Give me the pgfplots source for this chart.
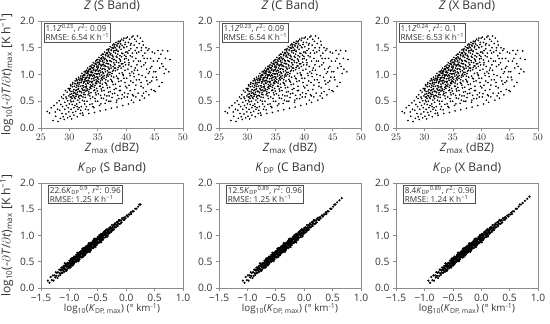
\documentclass[border=0pt]{standalone}
\usepackage{fontspec}
\setmainfont{Open Sans}
\usepackage{pgfplots}
\pgfplotsset{compat=1.18}
\usepackage{pgfplotstable}
\definecolor{axgray}{HTML}{8C8C8C}
\definecolor{txtgray}{HTML}{333333}
\definecolor{boxgray}{HTML}{505050}

\pgfplotstableread{
x y
26.1 0.31
26.5 0.28
26.8 0.38
27.1 0.14
27.3 0.42
27.5 0.30
27.6 0.22
27.8 0.47
27.9 0.35
28.0 0.12
28.2 0.51
28.3 0.33
28.4 0.18
28.5 0.44
28.6 0.58
28.7 0.27
28.8 0.40
28.9 0.55
28.9 0.21
29.0 0.62
29.1 0.16
29.2 0.48
29.2 0.35
29.3 0.70
29.4 0.26
29.5 0.55
29.5 0.42
29.6 0.67
29.7 0.19
29.7 0.51
29.8 0.74
29.8 0.38
29.9 0.60
29.9 0.30
29.4 0.58
30.0 0.72
30.0 0.45
30.1 0.22
30.1 0.63
30.2 0.81
30.2 0.52
30.3 0.35
30.3 0.68
30.4 0.17
30.4 0.58
30.5 0.77
30.5 0.44
30.6 0.85
30.6 0.29
30.7 0.65
30.7 0.50
30.8 0.72
30.8 0.38
30.9 0.83
30.9 0.57
30.3 0.49
30.6 0.61
30.8 0.24
30.1 0.74
31.0 0.88
31.0 0.55
31.1 0.31
31.1 0.70
31.2 0.92
31.2 0.62
31.3 0.45
31.3 0.80
31.4 0.21
31.4 0.67
31.5 0.85
31.5 0.52
31.6 0.95
31.6 0.74
31.7 0.38
31.7 0.60
31.8 0.89
31.8 0.48
31.9 0.78
31.9 0.27
31.2 0.76
31.4 0.83
31.6 0.58
31.8 0.69
31.1 0.64
31.3 0.90
31.5 0.72
31.7 0.82
31.9 0.93
31.5 0.35
31.0 0.42
31.8 0.55
32.0 0.97
32.0 0.68
32.1 0.40
32.1 0.85
32.2 1.02
32.2 0.74
32.3 0.52
32.3 0.91
32.4 0.24
32.4 0.79
32.5 0.99
32.5 0.63
32.6 1.05
32.6 0.87
32.7 0.45
32.7 0.71
32.8 0.94
32.8 0.57
32.9 1.03
32.9 0.82
32.0 0.33
32.2 0.88
32.4 0.95
32.6 0.66
32.8 0.77
32.1 0.60
32.3 0.72
32.5 0.84
32.7 0.98
32.9 0.69
32.3 0.28
32.6 0.50
32.8 1.06
32.2 0.93
32.5 0.76
32.9 0.88
32.4 0.58
32.7 0.90
33.0 1.08
33.0 0.78
33.1 0.50
33.1 0.95
33.2 1.12
33.2 0.84
33.3 0.62
33.3 1.01
33.4 0.27
33.4 0.89
33.5 1.10
33.5 0.72
33.6 1.15
33.6 0.97
33.7 0.55
33.7 0.81
33.8 1.04
33.8 0.66
33.9 1.13
33.9 0.92
33.0 0.40
33.2 0.98
33.4 1.05
33.6 0.76
33.8 0.87
33.1 0.70
33.3 0.83
33.5 0.93
33.7 1.09
33.9 0.79
33.3 0.34
33.6 0.60
33.8 1.16
33.2 1.03
33.5 0.86
33.9 0.99
33.4 0.68
33.7 0.99
33.1 0.88
33.6 0.44
33.0 0.94
33.8 0.74
34.0 1.18
34.0 0.87
34.1 0.58
34.1 1.04
34.2 1.22
34.2 0.93
34.3 0.70
34.3 1.10
34.4 0.29
34.4 0.98
34.5 1.20
34.5 0.80
34.6 1.25
34.6 1.06
34.7 0.62
34.7 0.90
34.8 1.14
34.8 0.74
34.9 1.23
34.9 1.01
34.0 0.45
34.2 1.08
34.4 1.15
34.6 0.84
34.8 0.96
34.1 0.78
34.3 0.92
34.5 1.02
34.7 1.19
34.9 0.88
34.3 0.38
34.6 0.66
34.8 1.27
34.2 1.13
34.5 0.95
34.9 1.09
34.4 0.76
34.7 1.08
34.1 0.97
34.6 0.50
34.0 1.03
34.8 0.83
34.5 0.55
34.9 0.69
35.0 1.28
35.0 0.95
35.1 0.64
35.1 1.14
35.2 1.32
35.2 1.02
35.3 0.78
35.3 1.20
35.4 0.32
35.4 1.07
35.5 1.30
35.5 0.88
35.6 1.36
35.6 1.16
35.7 0.69
35.7 0.99
35.8 1.24
35.8 0.82
35.9 1.33
35.9 1.11
35.0 0.50
35.2 1.18
35.4 1.25
35.6 0.92
35.8 1.05
35.1 0.86
35.3 1.01
35.5 1.12
35.7 1.29
35.9 0.96
35.3 0.42
35.6 0.73
35.8 1.38
35.2 1.23
35.5 1.04
35.9 1.19
35.4 0.84
35.7 1.17
35.1 1.06
35.6 0.56
35.0 1.12
35.8 0.90
35.5 0.61
35.9 0.76
36.0 1.38
36.0 1.02
36.1 0.70
36.1 1.23
36.2 1.42
36.2 1.10
36.3 0.85
36.3 1.30
36.4 0.34
36.4 1.15
36.5 1.40
36.5 0.95
36.6 1.46
36.6 1.26
36.7 0.75
36.7 1.07
36.8 1.33
36.8 0.88
36.9 1.44
36.9 1.20
36.0 0.55
36.2 1.28
36.4 1.35
36.6 0.99
36.8 1.14
36.1 0.93
36.3 1.09
36.5 1.21
36.7 1.39
36.9 1.04
36.3 0.46
36.6 0.80
36.8 1.47
36.2 0.62
36.5 0.52
36.9 0.67
36.4 0.90
36.7 1.25
36.1 1.16
36.6 0.60
36.0 1.19
36.8 0.97
37.0 1.48
37.0 1.10
37.1 0.76
37.1 1.32
37.2 1.52
37.2 1.18
37.3 0.91
37.3 1.39
37.4 0.37
37.4 1.24
37.5 1.50
37.5 1.02
37.6 1.55
37.6 1.35
37.7 0.81
37.7 1.15
37.8 1.42
37.8 0.95
37.9 1.53
37.9 1.28
37.0 0.60
37.2 1.37
37.4 1.45
37.6 1.06
37.8 1.22
37.1 1.00
37.3 1.16
37.5 1.30
37.7 1.49
37.9 1.12
37.3 0.50
37.6 0.86
37.8 1.57
37.2 0.68
37.5 0.57
37.9 0.72
37.4 0.97
37.7 1.33
37.1 1.26
37.6 0.64
38.0 1.56
38.0 1.18
38.1 0.82
38.1 1.40
38.2 1.60
38.2 1.26
38.3 0.97
38.3 1.47
38.4 0.39
38.4 1.32
38.5 1.58
38.5 1.09
38.6 1.62
38.6 1.43
38.7 0.87
38.7 1.22
38.8 1.50
38.8 1.02
38.9 1.61
38.9 1.35
38.0 0.65
38.2 1.45
38.4 1.53
38.6 1.13
38.8 1.29
38.1 1.07
38.3 1.23
38.5 1.38
38.7 0.55
38.9 0.78
38.3 0.48
38.6 0.92
38.8 0.70
38.2 0.74
38.5 0.61
38.9 1.16
39.0 1.63
39.0 1.25
39.1 0.88
39.1 1.47
39.2 1.66
39.2 1.33
39.3 1.03
39.3 1.54
39.4 0.42
39.4 1.39
39.5 1.64
39.5 1.15
39.6 1.68
39.6 0.93
39.7 0.66
39.7 1.29
39.8 1.56
39.8 1.08
39.9 0.78
39.9 1.42
39.0 0.70
39.2 0.55
39.4 1.20
39.6 1.50
39.8 0.85
39.1 1.12
39.3 0.62
39.5 0.98
39.7 1.36
39.9 1.18
40.0 1.68
40.0 1.30
40.1 0.93
40.1 1.52
40.2 1.70
40.2 0.58
40.3 1.10
40.3 1.40
40.4 0.45
40.4 1.60
40.5 1.22
40.5 0.80
40.6 1.66
40.6 1.02
40.7 0.70
40.7 1.35
40.8 1.48
40.8 0.88
40.9 1.15
40.9 1.58
40.1 0.75
40.3 0.64
40.5 1.45
40.7 0.98
40.9 0.52
40.4 1.27
41.0 1.70
41.0 1.05
41.1 0.62
41.1 1.40
41.2 1.72
41.2 0.85
41.3 1.25
41.3 0.48
41.4 1.55
41.4 0.96
41.5 1.66
41.5 0.72
41.6 1.12
41.6 1.45
41.7 0.58
41.7 1.30
41.8 1.62
41.8 0.90
41.9 1.18
41.9 1.50
41.3 1.02
41.7 0.80
42.0 1.72
42.0 1.08
42.1 0.65
42.2 1.42
42.3 0.90
42.3 1.58
42.4 0.52
42.5 1.25
42.5 1.68
42.6 0.78
42.7 1.15
42.7 1.50
42.8 0.98
42.8 0.60
42.9 1.35
42.9 1.62
42.2 1.00
42.6 0.85
43.0 1.55
43.0 0.75
43.1 1.18
43.2 0.56
43.3 1.40
43.4 0.95
43.5 1.50
43.5 0.68
43.6 1.10
43.7 1.30
43.8 0.82
43.8 1.45
43.9 1.02
43.4 1.22
44.0 1.48
44.0 0.62
44.1 1.05
44.2 0.85
44.3 1.30
44.4 0.72
44.5 1.15
44.6 1.42
44.7 0.95
44.8 1.25
44.9 0.70
44.5 0.88
45.0 1.40
45.1 0.68
45.2 1.05
45.4 0.90
45.5 1.25
45.6 1.45
45.8 0.78
45.9 1.12
45.3 0.95
46.1 1.38
46.3 0.85
46.5 1.15
46.7 1.02
46.9 1.30
46.4 1.45
47.0 1.10
47.3 1.44
47.5 1.05
47.7 1.28
30.05 0.70
30.15 0.58
30.25 0.79
30.35 0.64
30.45 0.55
30.55 0.82
30.65 0.69
30.75 0.60
30.85 0.78
30.95 0.66
31.05 0.83
31.15 0.59
31.25 0.71
31.35 0.88
31.45 0.63
31.55 0.78
31.65 0.91
31.75 0.68
31.85 0.85
31.95 0.61
32.05 0.90
32.15 0.66
32.25 0.79
32.35 0.97
32.45 0.70
32.55 0.86
32.65 1.00
32.75 0.62
32.85 0.92
32.95 0.75
33.05 1.02
33.15 0.73
33.25 0.89
33.35 1.08
33.45 0.65
33.55 0.99
33.65 1.11
33.75 0.77
33.85 1.06
33.95 0.85
33.45 0.94
33.15 1.06
34.05 1.12
34.15 0.82
34.25 0.99
34.35 1.17
34.45 0.71
34.55 1.08
34.65 1.21
34.75 0.86
34.85 1.16
34.95 0.93
34.35 0.89
34.75 1.01
35.05 1.22
35.15 0.91
35.25 1.08
35.35 1.27
35.45 0.78
35.55 1.18
35.65 1.31
35.75 0.94
35.85 1.26
35.95 1.03
35.35 0.97
35.75 1.10
36.05 1.31
36.15 0.98
36.25 1.17
36.35 1.37
36.45 0.83
36.55 1.27
36.65 1.41
36.75 1.01
36.85 1.36
36.95 1.12
36.35 1.05
36.75 1.20
37.05 1.41
37.15 1.04
37.25 1.25
37.35 1.46
37.45 0.88
37.55 1.36
37.65 1.50
37.75 1.08
37.85 1.45
37.95 1.19
37.35 1.12
37.75 1.28
38.05 1.50
38.15 1.12
38.25 1.34
38.35 1.55
38.45 0.93
38.55 1.44
38.65 1.58
38.75 1.16
38.85 1.53
38.95 1.27
39.05 1.57
39.15 1.20
39.25 1.40
39.45 1.00
39.55 1.51
39.75 1.23
39.85 1.60
39.95 1.34
40.15 1.42
40.45 1.18
40.75 1.55
41.05 1.33
41.45 1.08
41.85 1.40
42.15 1.25
42.65 1.45
43.15 1.30
43.65 0.88
44.25 1.12
44.85 1.05
45.75 1.30
46.25 1.20
31.35 0.40
32.85 0.35
34.15 0.40
35.55 0.45
36.95 0.50
38.35 0.52
39.65 0.58
41.25 0.60
43.05 0.65
}\zdata

\pgfplotstableread{
xs xc xx y
-1.38 -1.08 -0.93 0.14
-1.35 -1.05 -0.90 0.10
-1.33 -1.03 -0.88 0.21
-1.31 -1.01 -0.86 0.15
-1.29 -0.99 -0.84 0.24
-1.28 -0.98 -0.83 0.14
-1.26 -0.96 -0.81 0.24
-1.25 -0.95 -0.80 0.20
-1.24 -0.94 -0.79 0.30
-1.23 -0.93 -0.78 0.23
-1.22 -0.92 -0.77 0.29
-1.21 -0.91 -0.76 0.19
-1.20 -0.90 -0.75 0.30
-1.19 -0.89 -0.74 0.23
-1.18 -0.88 -0.73 0.35
-1.17 -0.87 -0.72 0.28
-1.16 -0.86 -0.71 0.35
-1.16 -0.86 -0.71 0.25
-1.15 -0.85 -0.70 0.33
-1.14 -0.84 -0.69 0.39
-1.14 -0.84 -0.69 0.29
-1.13 -0.83 -0.68 0.35
-1.12 -0.82 -0.67 0.29
-1.12 -0.82 -0.67 0.39
-1.11 -0.81 -0.66 0.34
-1.11 -0.81 -0.66 0.38
-1.10 -0.80 -0.65 0.32
-1.10 -0.80 -0.65 0.42
-1.09 -0.79 -0.64 0.38
-1.09 -0.79 -0.64 0.31
-1.08 -0.78 -0.63 0.42
-1.08 -0.78 -0.63 0.36
-1.07 -0.77 -0.62 0.46
-1.07 -0.77 -0.62 0.35
-1.06 -0.76 -0.61 0.42
-1.06 -0.76 -0.61 0.33
-1.05 -0.75 -0.60 0.46
-1.05 -0.75 -0.60 0.40
-1.04 -0.74 -0.59 0.44
-1.04 -0.74 -0.59 0.36
-1.03 -0.73 -0.58 0.48
-1.03 -0.73 -0.58 0.42
-1.02 -0.72 -0.57 0.40
-1.02 -0.72 -0.57 0.47
-1.01 -0.71 -0.56 0.38
-1.01 -0.71 -0.56 0.46
-1.00 -0.70 -0.55 0.52
-1.00 -0.70 -0.55 0.43
-1.05 -0.75 -0.60 0.33
-1.08 -0.78 -0.63 0.47
-0.99 -0.69 -0.54 0.49
-0.99 -0.69 -0.54 0.41
-0.98 -0.68 -0.53 0.53
-0.98 -0.68 -0.53 0.46
-0.97 -0.67 -0.52 0.52
-0.97 -0.67 -0.52 0.42
-0.96 -0.66 -0.51 0.50
-0.96 -0.66 -0.51 0.56
-0.96 -0.66 -0.51 0.46
-0.95 -0.65 -0.50 0.52
-0.95 -0.65 -0.50 0.45
-0.95 -0.65 -0.50 0.55
-0.94 -0.64 -0.49 0.48
-0.94 -0.64 -0.49 0.53
-0.94 -0.64 -0.49 0.43
-0.93 -0.63 -0.48 0.57
-0.93 -0.63 -0.48 0.51
-0.93 -0.63 -0.48 0.47
-0.92 -0.62 -0.47 0.56
-0.92 -0.62 -0.47 0.50
-0.92 -0.62 -0.47 0.60
-0.91 -0.61 -0.46 0.48
-0.91 -0.61 -0.46 0.55
-0.91 -0.61 -0.46 0.59
-0.90 -0.60 -0.45 0.51
-0.90 -0.60 -0.45 0.57
-0.97 -0.67 -0.52 0.56
-0.98 -0.68 -0.53 0.39
-0.99 -0.69 -0.54 0.47
-0.92 -0.62 -0.47 0.46
-0.94 -0.64 -0.49 0.57
-0.96 -0.66 -0.51 0.48
-0.89 -0.59 -0.44 0.59
-0.89 -0.59 -0.44 0.51
-0.89 -0.59 -0.44 0.56
-0.88 -0.58 -0.43 0.63
-0.88 -0.58 -0.43 0.54
-0.88 -0.58 -0.43 0.50
-0.87 -0.57 -0.42 0.60
-0.87 -0.57 -0.42 0.52
-0.87 -0.57 -0.42 0.62
-0.86 -0.56 -0.41 0.58
-0.86 -0.56 -0.41 0.55
-0.86 -0.56 -0.41 0.64
-0.85 -0.55 -0.40 0.52
-0.85 -0.55 -0.40 0.61
-0.85 -0.55 -0.40 0.67
-0.84 -0.54 -0.39 0.58
-0.84 -0.54 -0.39 0.63
-0.84 -0.54 -0.39 0.54
-0.83 -0.53 -0.38 0.66
-0.83 -0.53 -0.38 0.58
-0.83 -0.53 -0.38 0.61
-0.82 -0.52 -0.37 0.55
-0.82 -0.52 -0.37 0.64
-0.82 -0.52 -0.37 0.68
-0.81 -0.51 -0.36 0.59
-0.81 -0.51 -0.36 0.67
-0.81 -0.51 -0.36 0.62
-0.80 -0.50 -0.35 0.59
-0.80 -0.50 -0.35 0.65
-0.80 -0.50 -0.35 0.69
-0.86 -0.56 -0.41 0.67
-0.84 -0.54 -0.39 0.51
-0.82 -0.52 -0.37 0.60
-0.88 -0.58 -0.43 0.59
-0.83 -0.53 -0.38 0.54
-0.85 -0.55 -0.40 0.63
-0.79 -0.49 -0.34 0.67
-0.79 -0.49 -0.34 0.59
-0.79 -0.49 -0.34 0.71
-0.78 -0.48 -0.33 0.64
-0.78 -0.48 -0.33 0.69
-0.78 -0.48 -0.33 0.58
-0.77 -0.47 -0.32 0.66
-0.77 -0.47 -0.32 0.72
-0.77 -0.47 -0.32 0.63
-0.76 -0.46 -0.31 0.69
-0.76 -0.46 -0.31 0.61
-0.76 -0.46 -0.31 0.72
-0.75 -0.45 -0.30 0.66
-0.75 -0.45 -0.30 0.76
-0.75 -0.45 -0.30 0.64
-0.74 -0.44 -0.29 0.69
-0.74 -0.44 -0.29 0.73
-0.74 -0.44 -0.29 0.63
-0.73 -0.43 -0.28 0.72
-0.73 -0.43 -0.28 0.67
-0.73 -0.43 -0.28 0.76
-0.72 -0.42 -0.27 0.64
-0.72 -0.42 -0.27 0.72
-0.72 -0.42 -0.27 0.75
-0.71 -0.41 -0.26 0.68
-0.71 -0.41 -0.26 0.75
-0.71 -0.41 -0.26 0.71
-0.70 -0.40 -0.25 0.67
-0.70 -0.40 -0.25 0.75
-0.70 -0.40 -0.25 0.79
-0.77 -0.47 -0.32 0.75
-0.76 -0.46 -0.31 0.59
-0.74 -0.44 -0.29 0.76
-0.72 -0.42 -0.27 0.69
-0.78 -0.48 -0.33 0.67
-0.73 -0.43 -0.28 0.62
-0.75 -0.45 -0.30 0.71
-0.71 -0.41 -0.26 0.79
-0.69 -0.39 -0.24 0.77
-0.69 -0.39 -0.24 0.69
-0.69 -0.39 -0.24 0.74
-0.68 -0.38 -0.23 0.81
-0.68 -0.38 -0.23 0.72
-0.68 -0.38 -0.23 0.68
-0.67 -0.37 -0.22 0.78
-0.67 -0.37 -0.22 0.70
-0.67 -0.37 -0.22 0.80
-0.66 -0.36 -0.21 0.76
-0.66 -0.36 -0.21 0.73
-0.66 -0.36 -0.21 0.82
-0.65 -0.35 -0.20 0.70
-0.65 -0.35 -0.20 0.79
-0.65 -0.35 -0.20 0.85
-0.64 -0.34 -0.19 0.76
-0.64 -0.34 -0.19 0.81
-0.64 -0.34 -0.19 0.72
-0.63 -0.33 -0.18 0.84
-0.63 -0.33 -0.18 0.76
-0.63 -0.33 -0.18 0.79
-0.62 -0.32 -0.17 0.73
-0.62 -0.32 -0.17 0.82
-0.62 -0.32 -0.17 0.86
-0.61 -0.31 -0.16 0.77
-0.61 -0.31 -0.16 0.85
-0.61 -0.31 -0.16 0.80
-0.60 -0.30 -0.15 0.77
-0.60 -0.30 -0.15 0.83
-0.60 -0.30 -0.15 0.87
-0.66 -0.36 -0.21 0.85
-0.64 -0.34 -0.19 0.69
-0.62 -0.32 -0.17 0.78
-0.68 -0.38 -0.23 0.77
-0.63 -0.33 -0.18 0.72
-0.65 -0.35 -0.20 0.81
-0.59 -0.29 -0.14 0.85
-0.59 -0.29 -0.14 0.77
-0.59 -0.29 -0.14 0.89
-0.58 -0.28 -0.13 0.82
-0.58 -0.28 -0.13 0.87
-0.58 -0.28 -0.13 0.76
-0.57 -0.27 -0.12 0.84
-0.57 -0.27 -0.12 0.90
-0.57 -0.27 -0.12 0.81
-0.56 -0.26 -0.11 0.87
-0.56 -0.26 -0.11 0.79
-0.56 -0.26 -0.11 0.90
-0.55 -0.25 -0.10 0.84
-0.55 -0.25 -0.10 0.94
-0.55 -0.25 -0.10 0.82
-0.54 -0.24 -0.09 0.87
-0.54 -0.24 -0.09 0.91
-0.54 -0.24 -0.09 0.81
-0.53 -0.23 -0.08 0.90
-0.53 -0.23 -0.08 0.85
-0.53 -0.23 -0.08 0.94
-0.52 -0.22 -0.07 0.82
-0.52 -0.22 -0.07 0.90
-0.52 -0.22 -0.07 0.93
-0.51 -0.21 -0.06 0.86
-0.51 -0.21 -0.06 0.93
-0.51 -0.21 -0.06 0.89
-0.50 -0.20 -0.05 0.85
-0.50 -0.20 -0.05 0.93
-0.50 -0.20 -0.05 0.97
-0.57 -0.27 -0.12 0.93
-0.54 -0.24 -0.09 0.78
-0.49 -0.19 -0.04 0.95
-0.49 -0.19 -0.04 0.87
-0.48 -0.18 -0.03 0.93
-0.48 -0.18 -0.03 0.99
-0.48 -0.18 -0.03 0.86
-0.47 -0.17 -0.02 0.91
-0.47 -0.17 -0.02 0.96
-0.46 -0.16 -0.01 0.89
-0.46 -0.16 -0.01 0.99
-0.46 -0.16 -0.01 0.94
-0.45 -0.15 0.00 0.92
-0.45 -0.15 0.00 1.01
-0.45 -0.15 0.00 0.88
-0.44 -0.14 0.01 0.97
-0.44 -0.14 0.01 1.03
-0.43 -0.13 0.02 0.95
-0.43 -0.13 0.02 1.00
-0.43 -0.13 0.02 0.91
-0.42 -0.12 0.03 1.03
-0.42 -0.12 0.03 0.95
-0.41 -0.11 0.04 0.99
-0.41 -0.11 0.04 0.92
-0.41 -0.11 0.04 1.01
-0.40 -0.10 0.05 1.06
-0.40 -0.10 0.05 0.96
-0.47 -0.17 -0.02 1.01
-0.44 -0.14 0.01 0.87
-0.42 -0.12 0.03 1.01
-0.39 -0.09 0.06 1.05
-0.39 -0.09 0.06 0.96
-0.38 -0.08 0.07 1.02
-0.38 -0.08 0.07 1.08
-0.37 -0.07 0.08 1.00
-0.37 -0.07 0.08 1.06
-0.36 -0.06 0.09 0.97
-0.36 -0.06 0.09 1.05
-0.35 -0.05 0.10 1.10
-0.35 -0.05 0.10 1.01
-0.34 -0.04 0.11 1.04
-0.34 -0.04 0.11 1.12
-0.33 -0.03 0.12 1.00
-0.33 -0.03 0.12 1.08
-0.32 -0.02 0.13 1.05
-0.32 -0.02 0.13 1.11
-0.31 -0.01 0.14 1.03
-0.31 -0.01 0.14 1.09
-0.30 0.00 0.15 1.14
-0.30 0.00 0.15 1.06
-0.36 -0.06 0.09 1.10
-0.33 -0.03 0.12 0.98
-0.29 0.01 0.16 1.12
-0.29 0.01 0.16 1.05
-0.28 0.02 0.17 1.16
-0.27 0.03 0.18 1.09
-0.27 0.03 0.18 1.15
-0.26 0.04 0.19 1.07
-0.26 0.04 0.19 1.13
-0.25 0.05 0.20 1.20
-0.24 0.06 0.21 1.10
-0.24 0.06 0.21 1.16
-0.23 0.07 0.22 1.14
-0.22 0.08 0.23 1.20
-0.22 0.08 0.23 1.11
-0.21 0.09 0.24 1.18
-0.20 0.10 0.25 1.15
-0.20 0.10 0.25 1.23
-0.19 0.11 0.26 1.21
-0.18 0.12 0.27 1.16
-0.17 0.13 0.28 1.25
-0.16 0.14 0.29 1.20
-0.15 0.15 0.30 1.26
-0.15 0.15 0.30 1.18
-0.14 0.16 0.31 1.23
-0.13 0.17 0.32 1.29
-0.12 0.18 0.33 1.22
-0.11 0.19 0.34 1.28
-0.10 0.20 0.35 1.23
-0.12 0.18 0.33 1.29
-0.09 0.21 0.36 1.29
-0.08 0.22 0.37 1.25
-0.07 0.23 0.38 1.33
-0.05 0.25 0.40 1.30
-0.04 0.26 0.41 1.34
-0.03 0.27 0.42 1.30
-0.02 0.28 0.43 1.35
-0.01 0.29 0.44 1.33
0.01 0.31 0.46 1.38
0.03 0.33 0.48 1.36
0.04 0.34 0.49 1.40
0.06 0.36 0.51 1.40
0.08 0.38 0.53 1.44
0.09 0.39 0.54 1.41
0.11 0.41 0.56 1.46
0.13 0.43 0.58 1.46
0.16 0.46 0.61 1.51
0.18 0.48 0.63 1.51
0.21 0.51 0.66 1.55
0.23 0.53 0.68 1.59
0.25 0.55 0.70 1.59
}\kdata

\tikzset{
  fitbox/.style={draw=boxgray, line width=0.9pt, fill=white, anchor=north west,
    align=left, inner sep=1.3pt, font=\fontsize{8.2}{9.2}\selectfont, text=txtgray},
}
\pgfplotsset{
  panel/.style={
    scale only axis, width=142pt, anchor=south west,
    axis line style={axgray, line width=0.7pt},
    every tick/.style={axgray, line width=0.6pt},
    major tick length=3pt, tick align=outside, tick pos=left,
    ymin=0, ymax=2, ytick={0,0.5,1,1.5,2},
    yticklabels={0.0,0.5,1.0,1.5,2.0},
    ticklabel style={font=\fontsize{10.2}{12}\selectfont, text=txtgray},
    ylabel style={font=\fontsize{12}{14}\selectfont, text=txtgray},
    title style={font=\fontsize{12}{14}\selectfont, text=txtgray, anchor=base, yshift=5.5pt},
    clip=false,
  },
  zpanel/.style={panel, height=107pt, xmin=25, xmax=50,
    xtick={25,30,35,40,45,50},
    xlabel style={font=\fontsize{11.5}{14}\selectfont, text=txtgray,
      at={(rel axis cs:0.5,0)}, anchor=base, yshift=-23.5pt},
    xlabel={\textit{Z}\textsubscript{max} (dBZ)}},
  kpanel/.style={panel, height=105pt, xmin=-1.5, xmax=1.0,
    xtick={-1.5,-1,-0.5,0,0.5,1},
    xticklabels={−1.5,−1.0,−0.5,0.0,0.5,1.0},
    xlabel style={font=\fontsize{9.8}{12}\selectfont, text=txtgray,
      at={(rel axis cs:0.5,0)}, anchor=base, yshift=-24pt},
    xlabel={log\textsubscript{10}(\textit{K}\textsubscript{DP, max}) (° km\textsuperscript{-1})}},
  zdots/.style={only marks, mark=*, mark size=0.6pt, mark options={draw=none, fill=black, fill opacity=0.85}},
  kdots/.style={only marks, mark=*, mark size=0.9pt, mark options={draw=none, fill=black}},
}
\newcommand{\ylab}{log\textsubscript{10}(-$\partial$\textit{T}/$\partial$\textit{t})\textsubscript{max} [K h\textsuperscript{−1}]}

\begin{document}
\begin{tikzpicture}
\useasboundingbox (0,0) rectangle (550pt,324pt);
% ---------------- top row
\begin{axis}[zpanel, at={(41pt,196pt)}, title={\textit{Z} (S Band)}, ylabel={\ylab}]
\addplot[zdots] table[x=x,y=y]{\zdata};
\node[fitbox] at (rel axis cs:0.02,0.985) {1.1\textit{Z}\textsuperscript{0.23}, \textit{r}\textsuperscript{2}: 0.09\\RMSE: 6.54 K h\textsuperscript{−1}};
\end{axis}
\begin{axis}[zpanel, at={(219pt,196pt)}, title={\textit{Z} (C Band)}]
\addplot[zdots] table[x=x,y=y]{\zdata};
\node[fitbox] at (rel axis cs:0.02,0.985) {1.1\textit{Z}\textsuperscript{0.23}, \textit{r}\textsuperscript{2}: 0.09\\RMSE: 6.54 K h\textsuperscript{−1}};
\end{axis}
\begin{axis}[zpanel, at={(396pt,196pt)}, title={\textit{Z} (X Band)}]
\addplot[zdots] table[x=x,y=y]{\zdata};
\node[fitbox] at (rel axis cs:0.02,0.985) {1.1\textit{Z}\textsuperscript{0.24}, \textit{r}\textsuperscript{2}: 0.1\\RMSE: 6.53 K h\textsuperscript{−1}};
\end{axis}
% ---------------- bottom row
\begin{axis}[kpanel, at={(41pt,36pt)}, title={\textit{K}\textsubscript{DP} (S Band)}, ylabel={\ylab}]
\addplot[kdots] table[x=xs,y=y]{\kdata};
\node[fitbox] at (rel axis cs:0.05,0.985) {22.6\textit{K}\textsubscript{DP}\textsuperscript{0.9}, \textit{r}\textsuperscript{2}: 0.96\\RMSE: 1.25 K h\textsuperscript{−1}};
\end{axis}
\begin{axis}[kpanel, at={(219pt,36pt)}, title={\textit{K}\textsubscript{DP} (C Band)}]
\addplot[kdots] table[x=xc,y=y]{\kdata};
\addplot[kdots] coordinates {(0.58,1.63) (0.62,1.67) (0.66,1.71)};
\node[fitbox] at (rel axis cs:0.05,0.985) {12.5\textit{K}\textsubscript{DP}\textsuperscript{0.89}, \textit{r}\textsuperscript{2}: 0.96\\RMSE: 1.25 K h\textsuperscript{−1}};
\end{axis}
\begin{axis}[kpanel, at={(396pt,36pt)}, title={\textit{K}\textsubscript{DP} (X Band)}]
\addplot[kdots] table[x=xx,y=y]{\kdata};
\addplot[kdots] coordinates {(0.73,1.62) (0.77,1.66) (0.81,1.70) (0.85,1.74)};
\node[fitbox] at (rel axis cs:0.05,0.985) {8.4\textit{K}\textsubscript{DP}\textsuperscript{0.89}, \textit{r}\textsuperscript{2}: 0.96\\RMSE: 1.24 K h\textsuperscript{−1}};
\end{axis}
\end{tikzpicture}
\end{document}
